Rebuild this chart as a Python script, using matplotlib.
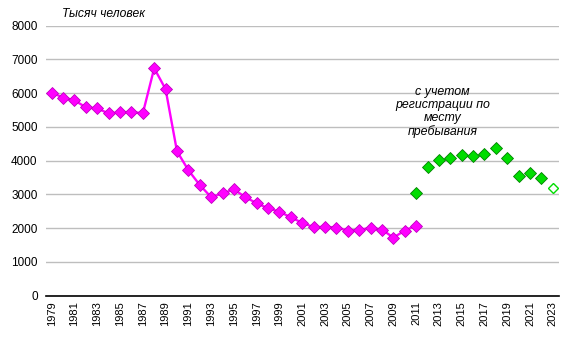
import matplotlib
matplotlib.use("Agg")
import matplotlib.pyplot as plt

plt.rcParams['font.family'] = ['Liberation Sans', 'DejaVu Sans']

# Population, thousand people
years_old = list(range(1979, 2012))
values_old = [6020, 5870, 5790, 5580, 5550, 5400, 5430, 5450, 5400, 6740,
              6120, 4280, 3720, 3280, 2920, 3030, 3150, 2920, 2740, 2590,
              2490, 2320, 2160, 2030, 2040, 2020, 1930, 1950, 2010, 1960,
              1720, 1930, 2080]

# Counting registration at place of stay
years_reg = list(range(2011, 2023))
values_reg = [3050, 3800, 4020, 4080, 4160, 4140, 4190, 4370, 4070, 3550,
              3630, 3500]
year_est = [2023]
value_est = [3180]

tick_years = list(range(1979, 2024, 2))
y_ticks = list(range(0, 8001, 1000))

fig = plt.figure(figsize=(5.73, 3.48), dpi=100)
ax = fig.add_axes([46 / 573, 1 - 295.7 / 348, 512.5 / 573, 270 / 348])

ax.plot(years_old, values_old, color='#FF00FF', lw=1.7, marker='D', ms=6,
        mfc='#FF00FF', mec='#C000C0', mew=0.6, zorder=3)
ax.plot(years_reg, values_reg, ls='none', marker='D', ms=6,
        mfc='#00DD00', mec='#008000', mew=0.6, zorder=3)
ax.plot(year_est, value_est, ls='none', marker='D', ms=5.5,
        mfc='white', mec='#00DD00', mew=1.0, zorder=3)

ax.set_xlim(1978.5, 2023.5)
ax.set_ylim(0, 8000)
ax.set_yticks(y_ticks)
ax.set_xticks(tick_years)
ax.set_xticklabels([str(y) for y in tick_years], rotation=90, fontsize=8)
ax.tick_params(axis='y', labelsize=8.5, length=0, pad=6)
ax.tick_params(axis='x', length=0, pad=4)
ax.yaxis.grid(True, color='#BEBEBE', lw=1.0)
ax.set_axisbelow(True)
for side in ('left', 'right', 'top'):
    ax.spines[side].set_visible(False)
ax.spines['bottom'].set_color('black')
ax.spines['bottom'].set_linewidth(1.2)

fig.text(62 / 573, 1 - 14 / 348, 'Тысяч человек', style='italic',
         fontsize=8.7, va='center', ha='left')
ax.text(2013.3, 5450, 'с учетом\nрегистрации по\nместу\nпребывания',
        style='italic', fontsize=8.9, ha='center', va='center',
        linespacing=1.1)

fig.savefig('out.png', dpi=100)
